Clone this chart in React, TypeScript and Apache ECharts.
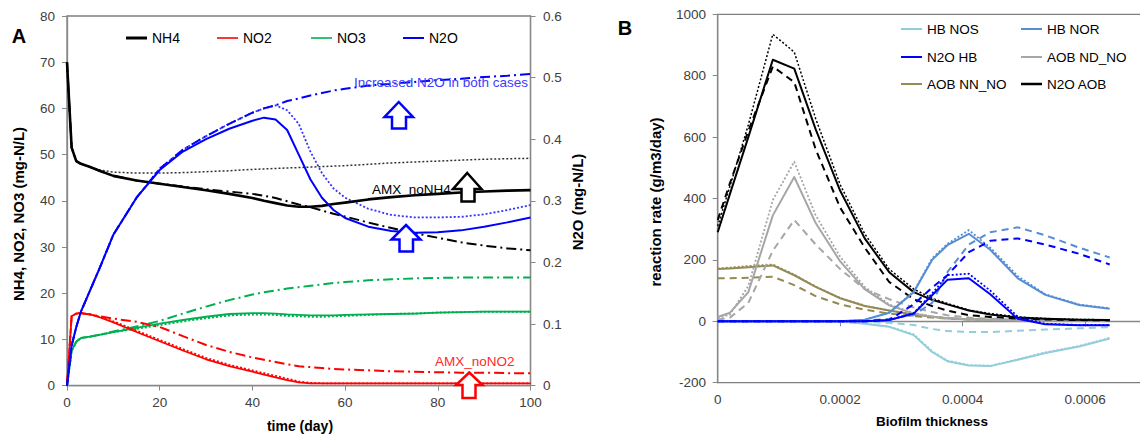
import React, { useEffect, useRef } from 'react';
import * as echarts from 'echarts';

// ---------- Panel A data (time in days) ----------
const T = [0, 1, 2, 3, 5, 7, 10, 15, 20, 25, 30, 35, 40, 42.5, 45, 47.5, 50, 52.5, 55, 57.5, 60, 65, 70, 75, 80, 85, 90, 95, 100];

const NH4_SOLID = [70, 51.5, 48.6, 48.0, 47.3, 46.5, 45.4, 44.4, 43.7, 43.0, 42.3, 41.5, 40.6, 40.0, 39.5, 39.0, 38.7, 38.7, 38.9, 39.3, 39.6, 40.3, 40.8, 41.2, 41.5, 41.8, 42.0, 42.2, 42.3];
const NH4_DOT = [70, 51.5, 48.6, 48.0, 47.3, 46.7, 46.2, 46.0, 46.0, 46.1, 46.3, 46.5, 46.8, 46.9, 47.0, 47.1, 47.2, 47.3, 47.4, 47.5, 47.6, 47.9, 48.2, 48.4, 48.6, 48.8, 49.0, 49.1, 49.2];
const NH4_DASHDOT = [70, 51.5, 48.6, 48.0, 47.3, 46.5, 45.4, 44.4, 43.7, 43.1, 42.5, 42.0, 41.5, 41.1, 40.6, 39.9, 39.2, 38.6, 37.9, 37.2, 36.6, 35.3, 34.1, 33.0, 32.0, 31.0, 30.3, 29.7, 29.3];

const NO2_SOLID = [0, 15.0, 15.6, 15.7, 15.4, 14.8, 13.7, 11.6, 9.6, 7.6, 5.7, 4.2, 3.0, 2.4, 1.8, 1.2, 0.7, 0.5, 0.5, 0.5, 0.5, 0.5, 0.5, 0.5, 0.5, 0.5, 0.5, 0.5, 0.5];
const NO2_DOT = [0, 15.0, 15.6, 15.7, 15.4, 14.9, 13.9, 11.9, 9.9, 7.9, 6.0, 4.5, 3.3, 2.7, 2.1, 1.5, 0.9, 0.6, 0.5, 0.5, 0.5, 0.5, 0.5, 0.5, 0.5, 0.5, 0.5, 0.5, 0.5];
const NO2_DASHDOT = [0, 15.0, 15.6, 15.7, 15.4, 15.0, 14.5, 13.8, 12.7, 10.7, 8.8, 7.3, 6.1, 5.6, 5.1, 4.6, 4.2, 4.0, 3.8, 3.6, 3.5, 3.3, 3.1, 3.0, 2.9, 2.8, 2.8, 2.7, 2.7];

const NO3_SOLID = [0, 7.5, 9.5, 10.3, 10.6, 11.0, 11.6, 12.5, 13.4, 14.2, 14.9, 15.5, 15.7, 15.7, 15.6, 15.4, 15.3, 15.2, 15.2, 15.2, 15.3, 15.4, 15.5, 15.6, 15.8, 15.9, 16.0, 16.0, 16.0];
const NO3_DOT = [0, 7.5, 9.5, 10.3, 10.6, 11.0, 11.6, 12.3, 13.1, 13.9, 14.6, 15.2, 15.4, 15.4, 15.3, 15.1, 15.0, 14.9, 14.9, 15.0, 15.1, 15.3, 15.5, 15.6, 15.8, 15.9, 16.0, 16.0, 16.0];
const NO3_DASHDOT = [0, 7.5, 9.5, 10.3, 10.6, 11.0, 11.7, 12.8, 14.0, 15.6, 17.1, 18.5, 19.7, 20.2, 20.6, 21.0, 21.3, 21.6, 21.9, 22.2, 22.4, 22.8, 23.0, 23.2, 23.3, 23.4, 23.4, 23.4, 23.4];

const N2O_SOLID = [0, 0.065, 0.095, 0.12, 0.155, 0.19, 0.245, 0.305, 0.35, 0.38, 0.40, 0.417, 0.43, 0.435, 0.432, 0.415, 0.375, 0.335, 0.305, 0.285, 0.272, 0.258, 0.251, 0.248, 0.249, 0.252, 0.258, 0.265, 0.273];
const N2O_DOT = [0, 0.065, 0.095, 0.12, 0.155, 0.19, 0.245, 0.305, 0.352, 0.383, 0.405, 0.425, 0.443, 0.45, 0.455, 0.447, 0.425, 0.38, 0.345, 0.32, 0.305, 0.287, 0.277, 0.273, 0.273, 0.274, 0.278, 0.285, 0.293];
const N2O_DASHDOT = [0, 0.065, 0.095, 0.12, 0.155, 0.19, 0.245, 0.305, 0.352, 0.383, 0.405, 0.425, 0.443, 0.45, 0.455, 0.462, 0.466, 0.471, 0.475, 0.479, 0.482, 0.487, 0.49, 0.493, 0.496, 0.498, 0.501, 0.503, 0.506];

// ---------- Panel B data (biofilm thickness) ----------
const XB = [0, 0.00002, 0.00005, 0.00009, 0.000125, 0.00016, 0.0002, 0.00024, 0.00028, 0.00032, 0.00035, 0.000375, 0.00041, 0.000445, 0.00049, 0.000535, 0.00059, 0.00064];

const HBNOS_SOLID = [0, 0, 0, 0, 0, 0, -1, -8, -18, -45, -100, -130, -144, -146, -125, -103, -82, -56];
const HBNOS_DOT = [0, 0, 0, 0, 0, 0, -1, -7, -17, -42, -97, -128, -142, -145, -124, -101, -80, -54];
const HBNOS_DASH = [0, 0, 0, 0, 0, 0, 0, -2, -5, -12, -25, -32, -35, -35, -31, -27, -23, -19];

const HBNOR_SOLID = [0, 0, 0, 0, 0, 0, 0, 5, 28, 95, 200, 248, 285, 233, 140, 86, 53, 41];
const HBNOR_DOT = [0, 0, 0, 0, 0, 0, 0, 5, 28, 97, 205, 252, 297, 240, 147, 88, 55, 42];
const HBNOR_DASH = [0, 0, 0, 0, 0, 0, 0, 2, 8, 20, 60, 160, 250, 290, 306, 280, 240, 208];

const N2OHB_SOLID = [0, 0, 0, 0, 0, 0, 0, 0, 4, 25, 85, 135, 140, 88, 8, -10, -13, -13];
const N2OHB_DOT = [0, 0, 0, 0, 0, 0, 0, 0, 4, 27, 90, 150, 155, 100, 15, -8, -12, -12];
const N2OHB_DASH = [0, 0, 0, 0, 0, 0, 0, 0, 5, 55, 110, 150, 225, 262, 270, 250, 220, 185];

const AOBND_SOLID = [14, 28, 95, 345, 470, 320, 195, 105, 52, 25, 15, 10, 6, 4, 3, 2, 2, 2];
const AOBND_DOT = [10, 22, 115, 395, 520, 345, 210, 112, 55, 27, 16, 11, 7, 5, 3, 2, 2, 2];
const AOBND_DASH = [5, 12, 60, 230, 330, 250, 170, 105, 72, 45, 30, 20, 12, 8, 5, 4, 3, 3];

const AOBNN_SOLID = [170, 172, 176, 182, 150, 112, 75, 50, 35, 22, 15, 10, 7, 5, 3, 2, 2, 2];
const AOBNN_DOT = [172, 175, 180, 185, 152, 113, 76, 51, 35, 22, 15, 10, 7, 5, 3, 2, 2, 2];
const AOBNN_DASH = [140, 140, 142, 145, 118, 82, 55, 38, 25, 17, 12, 9, 6, 4, 3, 2, 2, 2];

const N2OAOB_SOLID = [290, 415, 600, 852, 823, 625, 425, 270, 160, 95, 70, 55, 35, 22, 12, 8, 5, 4];
const N2OAOB_DOT = [310, 440, 640, 935, 877, 660, 445, 285, 170, 105, 75, 58, 37, 25, 14, 9, 6, 5];
const N2OAOB_DASH = [330, 450, 620, 830, 779, 560, 370, 240, 128, 72, 50, 35, 20, 14, 9, 6, 4, 3];

const FONT = "'Liberation Sans', Arial, Helvetica, sans-serif";
const DOT = [2, 2];
const DASH = [7, 5];
const DASHDOT = [10, 4, 2, 4];

const pairs = (xs: number[], ys: number[]) => xs.map((x, i) => [x, ys[i]]);

function line(name: string, xs: number[], ys: number[], color: string, width: number, type: any, grid: number, yIdx: number, z = 2) {
  return {
    type: 'line', name, xAxisIndex: grid, yAxisIndex: yIdx,
    data: pairs(xs, ys), symbol: 'none', showSymbol: false, color, z,
    lineStyle: { color, width, type, cap: 'butt', join: 'round' },
    emphasis: { disabled: true }, silent: true,
  };
}

function legendItem(name: string, left: number, top: number, h: number, fs = 14) {
  return {
    left, top, padding: 0, itemGap: 0, icon: 'rect', itemWidth: 21, itemHeight: h,
    data: [{ name }], selectedMode: false,
    itemStyle: { borderWidth: 0 },
    textStyle: { fontSize: fs, color: '#000', fontFamily: FONT },
  };
}

function arrow(L: number, R: number, top: number, hb: number, bot: number, sL: number, sR: number, color: string) {
  const cx = (L + R) / 2;
  return {
    type: 'polygon', z: 100,
    shape: { points: [[cx, top], [R, hb], [sR, hb], [sR, bot], [sL, bot], [sL, hb], [L, hb]] },
    style: { fill: '#fff', stroke: color, lineWidth: 2.5 },
  };
}

function txt(text: string, x: number, y: number, opts: any = {}) {
  return {
    type: 'text', x, y, z: 90, rotation: opts.rotation || 0,
    style: {
      text, fill: opts.fill || '#000', fontSize: opts.fontSize || 14, fontWeight: opts.fontWeight || 'normal',
      fontFamily: FONT, align: opts.align || 'center', verticalAlign: 'middle',
    },
  };
}

const axisCommon = {
  axisLine: { show: true, lineStyle: { color: '#888', width: 1.3 } },
  axisTick: { show: true, length: 5, lineStyle: { color: '#888', width: 1 } },
  splitLine: { show: false },
};
const lbl = (margin: number) => ({ color: '#404040', fontSize: 13.5, fontFamily: FONT, margin, formatter: (v: number) => String(v) });

export default function App() {
  const ref = useRef<HTMLDivElement>(null);
  useEffect(() => {
    const chart = echarts.init(ref.current!, null, { renderer: 'svg' });
    const option: any = {
      animation: false,
      backgroundColor: '#fff',
      textStyle: { fontFamily: FONT },
      grid: [
        { left: 67, top: 16, width: 463.5, height: 369.6, show: true, borderColor: '#7f7f7f', borderWidth: 1.3, backgroundColor: 'transparent', containLabel: false, outerBoundsMode: 'none' },
        { left: 717.7, top: 14.3, width: 428.75, height: 368.4, show: true, borderColor: '#7f7f7f', borderWidth: 1.3, backgroundColor: 'transparent', containLabel: false, outerBoundsMode: 'none' },
      ],
      xAxis: [
        { ...axisCommon, gridIndex: 0, type: 'value', min: 0, max: 100, interval: 20, axisLabel: lbl(10) },
        { ...axisCommon, gridIndex: 1, type: 'value', min: 0, max: 0.0007, interval: 0.0002, axisLabel: { ...lbl(9.5), showMaxLabel: false } },
      ],
      yAxis: [
        { ...axisCommon, gridIndex: 0, type: 'value', min: 0, max: 80, interval: 10, axisLabel: lbl(12) },
        { ...axisCommon, gridIndex: 0, type: 'value', position: 'right', min: 0, max: 0.6, interval: 0.1, axisLabel: lbl(12.5) },
        { ...axisCommon, gridIndex: 1, type: 'value', min: -200, max: 1000, interval: 200, axisLabel: lbl(11.7) },
      ],
      legend: [
        legendItem('NH4', 126, 31, 3),
        legendItem('NO2', 217, 31, 1.6),
        legendItem('NO3', 311, 31, 1.6),
        legendItem('N2O', 403, 31, 2),
        legendItem('HB NOS', 901, 22, 2, 13.5),
        legendItem('N2O HB', 901, 50, 2, 13.5),
        legendItem('AOB NN_NO', 901, 77, 2, 13.5),
        legendItem('HB NOR', 1021, 22, 2, 13.5),
        legendItem('AOB ND_NO', 1021, 50, 2, 13.5),
        legendItem('N2O AOB', 1021, 77, 2.5, 13.5),
      ],
      series: [
        // Panel A
        line('NO3 dotted', T, NO3_DOT, '#00B050', 2, DOT, 0, 0),
        line('NO3 dashdot', T, NO3_DASHDOT, '#00B050', 2, DASHDOT, 0, 0),
        line('NO3', T, NO3_SOLID, '#00B050', 1.8, 'solid', 0, 0),
        line('NO2 dotted', T, NO2_DOT, '#FF0000', 1.8, DOT, 0, 0),
        line('NO2 dashdot', T, NO2_DASHDOT, '#FF0000', 2, DASHDOT, 0, 0),
        line('NO2', T, NO2_SOLID, '#FF0000', 1.8, 'solid', 0, 0),
        line('NH4 dotted', T, NH4_DOT, '#333333', 1.5, DOT, 0, 0),
        line('NH4 dashdot', T, NH4_DASHDOT, '#000000', 2, DASHDOT, 0, 0),
        line('NH4', T, NH4_SOLID, '#000000', 2.6, 'solid', 0, 0, 3),
        line('N2O dotted', T, N2O_DOT, '#3333FF', 1.8, DOT, 0, 1),
        line('N2O dashdot', T, N2O_DASHDOT, '#0000FF', 2, DASHDOT, 0, 1),
        line('N2O', T, N2O_SOLID, '#0000FF', 2, 'solid', 0, 1, 3),
        // Panel B
        line('HB NOS dotted', XB, HBNOS_DOT, '#92CDDC', 1.8, DOT, 1, 2),
        line('HB NOS dashed', XB, HBNOS_DASH, '#92CDDC', 2, DASH, 1, 2),
        line('HB NOS', XB, HBNOS_SOLID, '#92CDDC', 2, 'solid', 1, 2),
        line('AOB NN_NO dotted', XB, AOBNN_DOT, '#948A54', 1.8, DOT, 1, 2),
        line('AOB NN_NO dashed', XB, AOBNN_DASH, '#948A54', 2, DASH, 1, 2),
        line('AOB NN_NO', XB, AOBNN_SOLID, '#948A54', 2, 'solid', 1, 2),
        line('AOB ND_NO dotted', XB, AOBND_DOT, '#A6A6A6', 1.8, DOT, 1, 2),
        line('AOB ND_NO dashed', XB, AOBND_DASH, '#A6A6A6', 2, DASH, 1, 2),
        line('AOB ND_NO', XB, AOBND_SOLID, '#A6A6A6', 2, 'solid', 1, 2),
        line('N2O AOB dotted', XB, N2OAOB_DOT, '#000000', 1.5, DOT, 1, 2),
        line('N2O AOB dashed', XB, N2OAOB_DASH, '#000000', 2, DASH, 1, 2),
        line('N2O AOB', XB, N2OAOB_SOLID, '#000000', 2, 'solid', 1, 2),
        line('HB NOR dotted', XB, HBNOR_DOT, '#558ED5', 1.8, DOT, 1, 2),
        line('HB NOR dashed', XB, HBNOR_DASH, '#558ED5', 2, DASH, 1, 2),
        line('HB NOR', XB, HBNOR_SOLID, '#558ED5', 2, 'solid', 1, 2),
        line('N2O HB dotted', XB, N2OHB_DOT, '#0000FF', 1.8, DOT, 1, 2),
        line('N2O HB dashed', XB, N2OHB_DASH, '#0000FF', 2, DASH, 1, 2),
        line('N2O HB', XB, N2OHB_SOLID, '#0000FF', 2, 'solid', 1, 2),
      ],
      graphic: [
        txt('A', 19, 36, { fontSize: 20, fontWeight: 'bold' }),
        txt('B', 625, 27.5, { fontSize: 20, fontWeight: 'bold' }),
        txt('NH4, NO2, NO3 (mg-N/L)', 18, 214, { fontSize: 15, fontWeight: 'bold', rotation: Math.PI / 2 }),
        txt('N2O (mg-N/L)', 577, 202, { fontSize: 15, fontWeight: 'bold', rotation: Math.PI / 2 }),
        txt('time (day)', 300, 426, { fontSize: 14, fontWeight: 'bold' }),
        txt('reaction rate (g/m3/day)', 655, 202, { fontSize: 15, fontWeight: 'bold', rotation: Math.PI / 2 }),
        txt('Biofilm thickness', 932, 421, { fontSize: 13.5, fontWeight: 'bold' }),
        txt('Increased N2O in both cases', 441, 82, { fontSize: 13.5, fill: '#3C3CFF' }),
        txt('AMX_noNH4', 372, 189, { fontSize: 13.5, align: 'left' }),
        txt('AMX_noNO2', 435, 361, { fontSize: 13.5, align: 'left', fill: '#FF2B2B' }),
        arrow(384.5, 413, 102, 117, 128.5, 392, 406, '#0000FF'),
        arrow(453, 481.5, 173, 189, 201.5, 461.5, 474.5, '#000000'),
        arrow(391.5, 420.5, 225, 239.5, 251.5, 399.5, 413, '#0000FF'),
        arrow(456, 482.5, 372.5, 385, 398, 462.5, 475.5, '#FF0000'),
      ],
    };
    chart.setOption(option);
    return () => chart.dispose();
  }, []);
  return <div ref={ref} style={{ position: 'fixed', left: 0, top: 0, width: 1140, height: 434, background: '#fff' }} />;
}
